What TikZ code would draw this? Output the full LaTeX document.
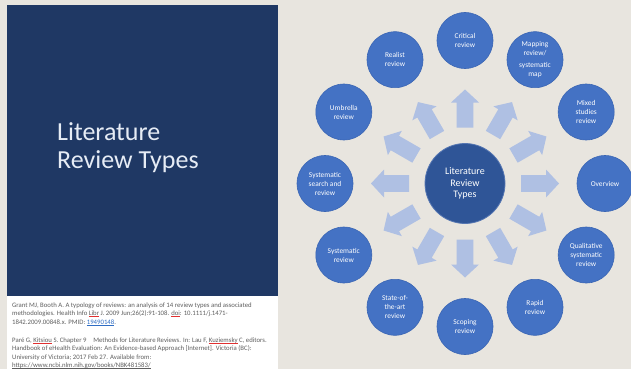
\documentclass[tikz,border=0pt]{standalone}
\usepackage{fontspec}
\setmainfont{Carlito}
\definecolor{bgc}{HTML}{E8E5DF}
\definecolor{panelc}{HTML}{1F3864}
\definecolor{circc}{HTML}{4472C4}
\definecolor{circb}{HTML}{3B66B4}
\definecolor{centc}{HTML}{2F5597}
\definecolor{centb}{HTML}{5576B2}
\definecolor{arrc}{HTML}{AFC0E3}
\definecolor{titlec}{HTML}{E6ECF5}
\definecolor{refgrey}{HTML}{5E5E5E}
\definecolor{linkblue}{HTML}{2E6DC4}
\definecolor{spellred}{HTML}{E03030}
\newlength\myulw
\newcommand\myulc[2]{\settowidth{\myulw}{#2}\rlap{\textcolor{#1}{\rule[-1pt]{\myulw}{0.35pt}}}#2}
\newcommand\redul[1]{\myulc{spellred}{#1}}
\newcommand\linkul[1]{\textcolor{linkblue}{\myulc{linkblue}{#1}}}
\tikzset{
  outer/.style={circle, fill=circc, draw=circb, line width=0.6pt, minimum size=56pt, inner sep=0pt,
    text=white, align=center, font=\fontsize{7.4}{9}\selectfont},
  center/.style={circle, fill=centc, draw=centb, line width=0.8pt, minimum size=80pt, inner sep=0pt,
    text=white, align=center, font=\fontsize{10}{11.6}\selectfont},
  blockarrow/.style={fill=arrc, draw=none},
  reftext/.style={anchor=north west, align=left, inner sep=0pt, text=refgrey,
    font=\fontsize{6.75}{8.4}\selectfont}
}
\begin{document}
\begin{tikzpicture}[x=1pt,y=-1pt]
\useasboundingbox (0,0) rectangle (631,369);
\fill[bgc] (0,0) rectangle (631,369);
% left panel
\fill[panelc] (7,5) rectangle (278,296);
\fill[white] (7,296) rectangle (278,369);
\node[anchor=north west, align=left, inner sep=0pt, text=titlec,
  font=\fontsize{26}{27.5}\selectfont] (title) at (57,122.5) {Literature\\Review Types};
\node[reftext] (ref1) at (12,302.5) {Grant MJ, Booth A. A typology of reviews: an analysis of 14 review types and associated\\
methodologies. Health Info \redul{Libr} J. 2009 Jun;26(2):91-108. \redul{doi}: 10.1111/j.1471-\\
1842.2009.00848.x. PMID: \linkul{19490148}.};
\node[reftext] (ref2) at (12,337.5) {Paré G, \redul{Kitsiou} S. Chapter 9\quad Methods for Literature Reviews. In: Lau F, \redul{Kuziemsky} C, editors.\\
Handbook of eHealth Evaluation: An Evidence-based Approach [Internet]. Victoria (BC):\\
University of Victoria; 2017 Feb 27. Available from:\\
\myulc{refgrey}{https://www.ncbi.nlm.nih.gov/books/NBK481583/}};
% arrows
\foreach \a in {0,30,...,330}{
  \begin{scope}[shift={(465,183.5)}, rotate=\a]
    \fill[blockarrow] (56,-8.3) -- (81,-8.3) -- (81,-14) -- (94,0) -- (81,14) -- (81,8.3) -- (56,8.3) -- cycle;
  \end{scope}
}
% centre
\node[center] (c) at (465,183.5) {Literature\\Review\\Types};
% outer circles
\node[outer] (critical) at (465,40.5) {Critical\\review};
\node[outer] (mapping) at (535,59.7) {Mapping\\review/\\[3pt]systematic\\map};
\node[outer] (mixed) at (586.2,112) {Mixed\\studies\\review};
\node[outer] (overview) at (605,183.5) {Overview};
\node[outer] (qual) at (586.2,255) {Qualitative\\systematic\\review};
\node[outer] (rapid) at (535,307.3) {Rapid\\review};
\node[outer] (scoping) at (465,326.5) {Scoping\\review};
\node[outer] (state) at (395,307.3) {State-of-\\the-art\\review};
\node[outer] (sysrev) at (343.8,255) {Systematic\\review};
\node[outer] (syssearch) at (325,183.5) {Systematic\\search and\\review};
\node[outer] (umbrella) at (343.8,112) {Umbrella\\review};
\node[outer] (realist) at (395,59.7) {Realist\\review};
\end{tikzpicture}
\end{document}
